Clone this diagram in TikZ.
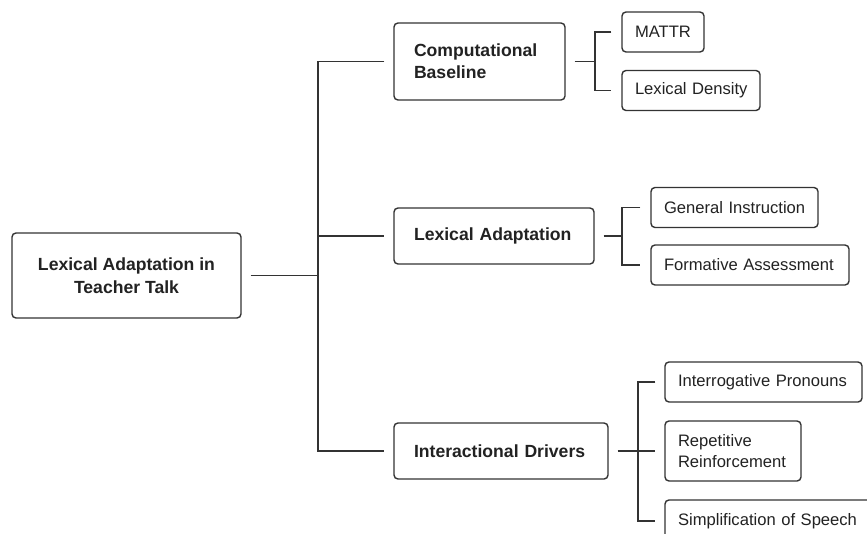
\documentclass[tikz,border=0pt]{standalone}
\usepackage{fontspec}
\setmainfont{Liberation Sans}
\definecolor{linec}{HTML}{333333}
\definecolor{txtc}{HTML}{222222}
\begin{document}
\begin{tikzpicture}[x=1pt,y=-1pt,
  box/.style={draw=linec, rounded corners=4pt, line width=1.4pt, fill=white, text=txtc, inner ysep=0pt,
    execute at begin node={\hfuzz=30pt\relax}},
  mainbox/.style={box, font=\fontsize{17.6}{22}\selectfont\bfseries, align=left, inner xsep=20pt},
  leaf/.style={box, font=\fontsize{16.6}{21}\selectfont, align=left, inner xsep=13pt, minimum height=40pt},
  conn/.style={draw=linec, line width=1.5pt}
]
\useasboundingbox (0,0) rectangle (867,533);
\clip (0,0) rectangle (867,533);
% root
\node[box, font=\fontsize{17.6}{23}\selectfont\bfseries, align=center, minimum width=229pt, minimum height=85pt, inner xsep=0pt] (root) at (126.5,275.5) {Lexical Adaptation in\\Teacher Talk};
% main branches
\node[mainbox, text width=131pt, minimum height=77pt] (cb) at (479.5,61.5) {Computational\\Baseline};
\node[mainbox, text width=160pt, minimum height=56pt] (la) at (494,236) {\mbox{Lexical Adaptation}};
\node[mainbox, text width=174pt, minimum height=56pt] (id) at (501,451) {\mbox{Interactional Drivers}};
% leaves
\node[leaf, text width=56pt] (mattr) at (663,32) {MATTR};
\node[leaf, text width=112pt] (ld) at (691,90.5) {\mbox{Lexical Density}};
\node[leaf, text width=141pt] (gi) at (734.5,207.5) {\mbox{General Instruction}};
\node[leaf, text width=172pt] (fa) at (750,265) {\mbox{Formative Assessment}};
\node[leaf, text width=171pt] (ip) at (763.5,382) {\mbox{Interrogative Pronouns}};
\node[leaf, text width=110pt, minimum height=60pt] (rr) at (733,451) {Repetitive\\Reinforcement};
\node[leaf, text width=194pt, minimum height=42pt] (ss) at (775,521) {\mbox{Simplification of Speech}};
% trunk coordinates
\coordinate (t) at (318,0);
\coordinate (s1) at (595,0);
\coordinate (s2) at (622,0);
\coordinate (s3) at (638,0);
% connectors
\draw[conn, shorten <=9pt] (root.east) -- (root.east -| t);
\draw[conn, shorten <=9pt, shorten >=9pt] (cb.west) -- (cb.west -| t) -- (id.west -| t) -- (id.west);
\draw[conn, shorten >=9pt] (la.west -| t) -- (la.west);
\draw[conn, shorten <=9pt] (cb.east) -- (cb.east -| s1);
\draw[conn, shorten <=10pt, shorten >=10pt] (mattr.west) -- (mattr.west -| s1) -- (ld.west -| s1) -- (ld.west);
\draw[conn, shorten <=9pt] (la.east) -- (la.east -| s2);
\draw[conn, shorten <=10pt, shorten >=10pt] (gi.west) -- (gi.west -| s2) -- (fa.west -| s2) -- (fa.west);
\draw[conn, shorten <=9pt] (id.east) -- (id.east -| s3);
\draw[conn, shorten <=9pt, shorten >=9pt] (ip.west) -- (ip.west -| s3) -- (ss.west -| s3) -- (ss.west);
\draw[conn, shorten >=9pt] (rr.west -| s3) -- (rr.west);
\end{tikzpicture}
\end{document}
